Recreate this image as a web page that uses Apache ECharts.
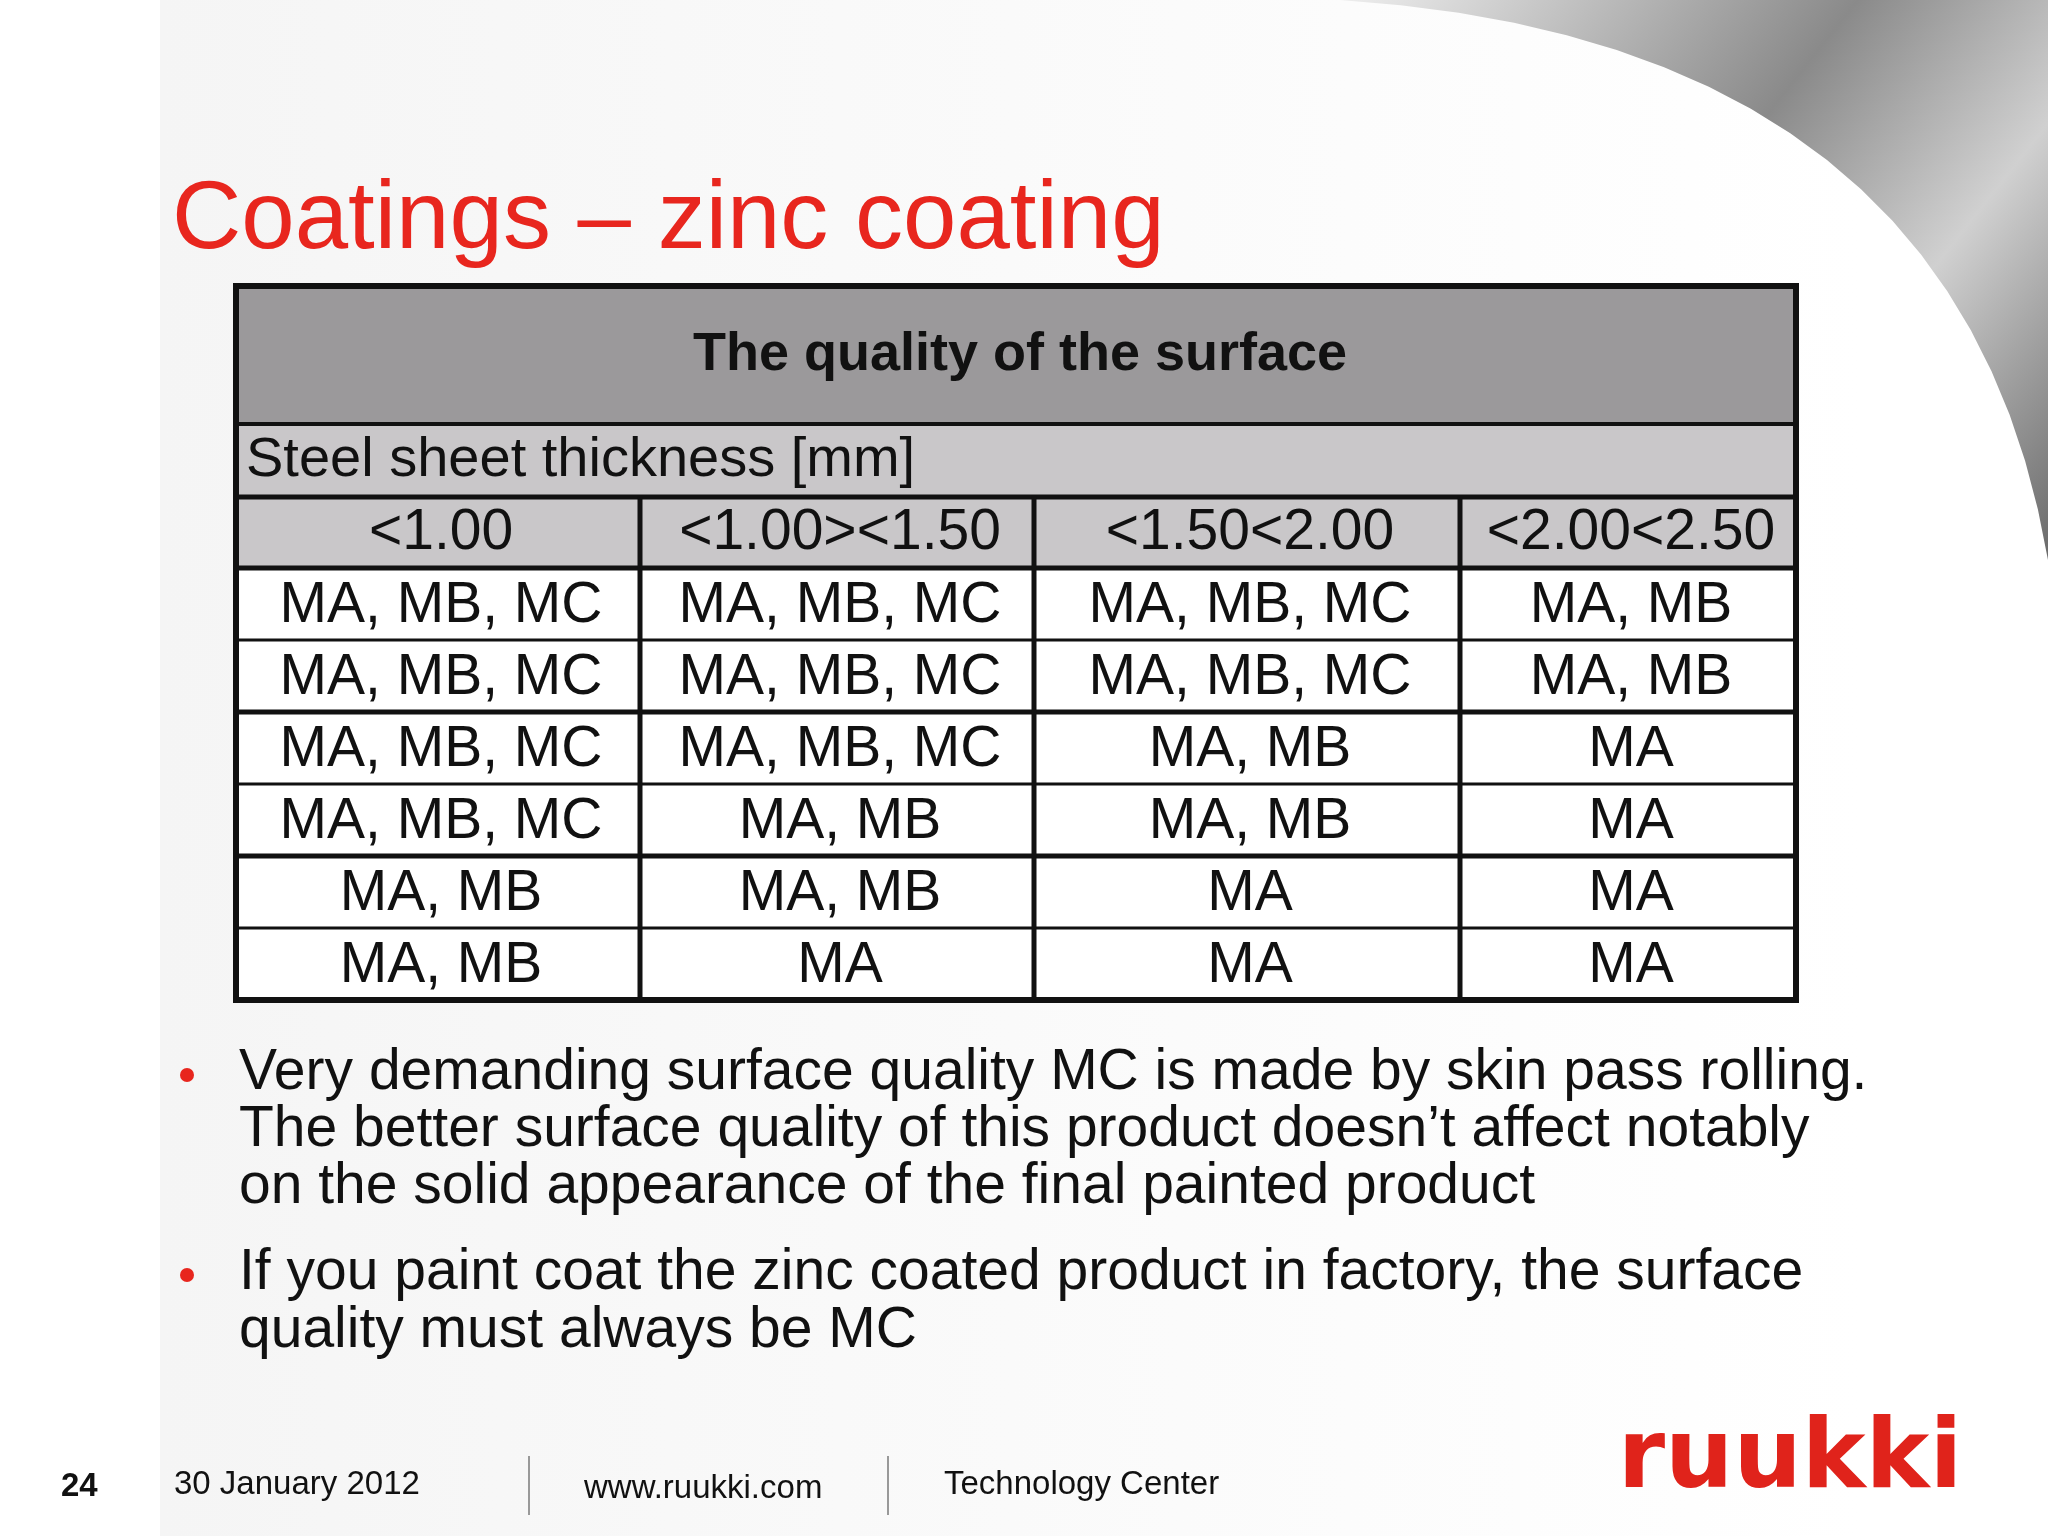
<!DOCTYPE html>
<html><head><meta charset="utf-8">
<script src="https://cdn.jsdelivr.net/npm/echarts@6/dist/echarts.min.js"></script>
<style>html,body{margin:0;padding:0;background:#fff}#c{width:2048px;height:1536px}</style>
</head><body><div id="c"></div>
<script>
const title = "Coatings – zinc coating";
const tableHeader = "The quality of the surface";
const subHeader = "Steel sheet thickness [mm]";
const columns = ["<1.00", "<1.00><1.50", "<1.50<2.00", "<2.00<2.50"];
const rows = [
  ["MA, MB, MC", "MA, MB, MC", "MA, MB, MC", "MA, MB"],
  ["MA, MB, MC", "MA, MB, MC", "MA, MB, MC", "MA, MB"],
  ["MA, MB, MC", "MA, MB, MC", "MA, MB", "MA"],
  ["MA, MB, MC", "MA, MB", "MA, MB", "MA"],
  ["MA, MB", "MA, MB", "MA", "MA"],
  ["MA, MB", "MA", "MA", "MA"]
];
const bullets = [
  ["Very demanding surface quality MC is made by skin pass rolling.", "The better surface quality of this product doesn’t affect notably", "on the solid appearance of the final painted product"],
  ["If you paint coat the zinc coated product in factory, the surface", "quality must always be MC"]
];
const footer = {page: "24", date: "30 January 2012", web: "www.ruukki.com", dept: "Technology Center", logo: "ruukki"};

const chart = echarts.init(document.getElementById('c'));
const F = "Liberation Sans, Arial, sans-serif";
const RED = "#e8261e";
const colX = [236, 640, 1034, 1460, 1796];
const rowY = [568, 640, 712, 784, 856, 928, 1000];
const g = [];
g.push({type:'rect', shape:{x:0,y:0,width:2048,height:1536}, style:{fill:'#ffffff'}, z:0});
g.push({type:'rect', shape:{x:160,y:0,width:1700,height:1536}, style:{fill:new echarts.graphic.LinearGradient(0,0,1,0,[{offset:0,color:'#f5f5f5'},{offset:1,color:'#ffffff'}])}, z:0});
const sw = [[1340,0],[2048,0],[2048,560]];
for (let t=0;t<=1.0001;t+=0.05){
  const x=(1-t)*(1-t)*2048+2*(1-t)*t*1960+t*t*1340;
  const y=(1-t)*(1-t)*560+2*(1-t)*t*40;
  sw.push([x,y]);
}
g.push({type:'polygon', shape:{points:sw},
  style:{fill:new echarts.graphic.LinearGradient(0,0,1,1,[{offset:0,color:'#eeeeee'},{offset:0.45,color:'#8a8a8a'},{offset:0.7,color:'#d0d0d0'},{offset:1,color:'#6a6a6a'}])}, z:1});
g.push({type:'text', style:{text:title, x:172, y:222, fill:RED, font:'96px '+F, verticalAlign:'middle'}, z:5});
g.push({type:'rect', shape:{x:236,y:286,width:1560,height:138}, style:{fill:'#9b999b'}, z:2});
g.push({type:'rect', shape:{x:236,y:424,width:1560,height:144}, style:{fill:'#c9c7c9'}, z:2});
g.push({type:'rect', shape:{x:236,y:568,width:1560,height:432}, style:{fill:'#ffffff'}, z:2});
g.push({type:'text', style:{text:tableHeader, x:1020, y:355, fill:'#111', font:'bold 54px '+F, align:'center', verticalAlign:'middle'}, z:5});
g.push({type:'text', style:{text:subHeader, x:246, y:461, fill:'#111', font:'56px '+F, verticalAlign:'middle'}, z:5});
columns.forEach((c,i)=>g.push({type:'text', style:{text:c, x:(colX[i]+colX[i+1])/2+3, y:533, fill:'#111', font:'57px '+F, align:'center', verticalAlign:'middle'}, z:5}));
rows.forEach((r,ri)=>r.forEach((c,i)=>g.push({type:'text', style:{text:c, x:(colX[i]+colX[i+1])/2+3, y:(rowY[ri]+rowY[ri+1])/2+2, fill:'#111', font:'57px '+F, align:'center', verticalAlign:'middle'}, z:5})));
const L=(x1,y1,x2,y2,w,c)=>g.push({type:'line', shape:{x1,y1,x2,y2}, style:{stroke:c||'#111', lineWidth:w}, z:6});
L(236,424,1796,424,4); L(236,497,1796,497,5);
rowY.forEach((y,i)=>L(236,y,1796,y,i%2===0?5:3));
colX.slice(1,4).forEach(x=>L(x,497,x,1000,5));
g.push({type:'rect', shape:{x:236,y:286,width:1560,height:714}, style:{fill:'none', stroke:'#111', lineWidth:6}, z:7});
const by=[[1073,1130,1187],[1273,1331]];
bullets.forEach((b,bi)=>{
  g.push({type:'circle', shape:{cx:187, cy:by[bi][0]+2, r:7}, style:{fill:RED}, z:5});
  b.forEach((t,li)=>g.push({type:'text', style:{text:t, x:239, y:by[bi][li], fill:'#111', font:'57px '+F, verticalAlign:'middle'}, z:5}));
});
g.push({type:'text', style:{text:footer.page, x:61, y:1487, fill:'#111', font:'bold 33px '+F, verticalAlign:'middle'}, z:5});
g.push({type:'text', style:{text:footer.date, x:174, y:1485, fill:'#111', font:'33px '+F, verticalAlign:'middle'}, z:5});
g.push({type:'text', style:{text:footer.web, x:584, y:1489, fill:'#111', font:'33px '+F, verticalAlign:'middle'}, z:5});
g.push({type:'text', style:{text:footer.dept, x:944, y:1485, fill:'#111', font:'33px '+F, verticalAlign:'middle'}, z:5});
L(529,1456,529,1515,2,'#999'); L(888,1456,888,1515,2,'#999');
g.push({type:'text', style:{text:footer.logo, x:1790, y:1462, fill:'#e0231b', font:'bold 96px "DejaVu Sans", sans-serif', align:'center', verticalAlign:'middle'}, z:5});
chart.setOption({animation:false, graphic:{elements:g}});
</script></body></html>
